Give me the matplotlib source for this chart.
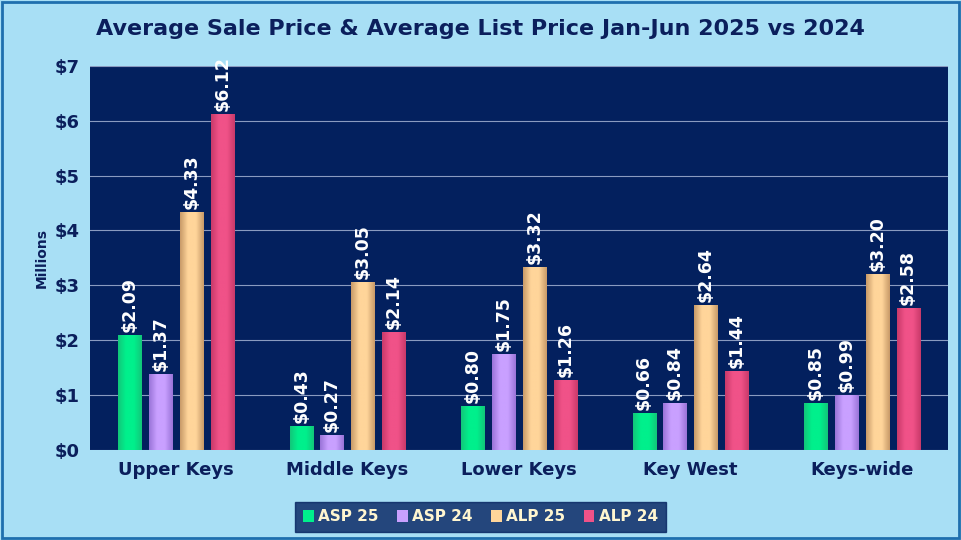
import matplotlib.pyplot as plt
import numpy as np
from matplotlib.colors import LinearSegmentedColormap

regions = ['Upper Keys', 'Middle Keys', 'Lower Keys', 'Key West', 'Keys-wide']
series = ['ASP 25', 'ASP 24', 'ALP 25', 'ALP 24']
asp25 = [2.09, 0.43, 0.80, 0.66, 0.85]
asp24 = [1.37, 0.27, 1.75, 0.84, 0.99]
alp25 = [4.33, 3.05, 3.32, 2.64, 3.20]
alp24 = [6.12, 2.14, 1.26, 1.44, 2.58]
values = [asp25, asp24, alp25, alp24]
# (edge, centre) colours for the horizontal gradient
grads = [('#12c77a', '#00f08c'), ('#9a74d8', '#c9a0ff'),
         ('#c89a68', '#ffd59a'), ('#c93a6a', '#f05288')]

navy = '#0b1f5c'
fig = plt.figure(figsize=(9.61, 5.40), dpi=100, facecolor='#a8dff5')
ax = fig.add_axes([0.094, 0.167, 0.892, 0.711])
ax.set_facecolor('#03205e')

x = np.arange(len(regions))
w = 0.135
step = 0.18
for i, (vals, (c0, c1)) in enumerate(zip(values, grads)):
    cmap = LinearSegmentedColormap.from_list('g%d' % i, [c0, c1, c1, c0])
    grad = np.linspace(0, 1, 64).reshape(1, -1)
    for j, v in enumerate(vals):
        xc = x[j] + (i - 1.5) * step
        ax.imshow(grad, cmap=cmap, aspect='auto', zorder=3,
                  extent=[xc - w / 2, xc + w / 2, 0, v])
        ax.text(xc, v + 0.06, '$%.2f' % v, rotation=90, ha='center', va='bottom',
                color='white', fontsize=12.5, fontweight='bold', zorder=4)
    ax.bar([0], [0], color=c1, label=series[i])

ax.set_xlim(-0.5, 4.5)
ax.set_ylim(0, 7)
ax.set_yticks(range(8))
ax.set_yticklabels(['$%d' % t for t in range(8)], fontsize=13, fontweight='bold', color=navy)
ax.set_xticks(x)
ax.set_xticklabels(regions, fontsize=13, fontweight='bold', color=navy)
ax.tick_params(length=0, pad=8)
ax.grid(axis='y', color='#8a9bc0', linewidth=0.8, zorder=0)
ax.set_axisbelow(True)
for s in ax.spines.values():
    s.set_visible(False)
ax.set_ylabel('Millions', fontsize=10, fontweight='bold', color=navy)

fig.suptitle('Average Sale Price & Average List Price Jan-Jun 2025 vs 2024',
             y=0.965, fontsize=16, fontweight='bold', color=navy)

leg = fig.legend(loc='center', bbox_to_anchor=(0.5, 0.043), ncol=4, frameon=True,
                 fancybox=False, fontsize=11, handlelength=0.7, handleheight=0.9,
                 handletextpad=0.3, columnspacing=1.2, borderpad=0.5)
leg.get_frame().set_facecolor('#03205e')
leg.get_frame().set_edgecolor('#03205e')
for t in leg.get_texts():
    t.set_color('#fff6d0')
    t.set_fontweight('bold')

fig.patches.append(plt.Rectangle((0.002, 0.003), 0.996, 0.994, transform=fig.transFigure,
                                 fill=False, edgecolor='#1f6fae', linewidth=2))
fig.savefig('out.png', dpi=100, facecolor=fig.get_facecolor())
